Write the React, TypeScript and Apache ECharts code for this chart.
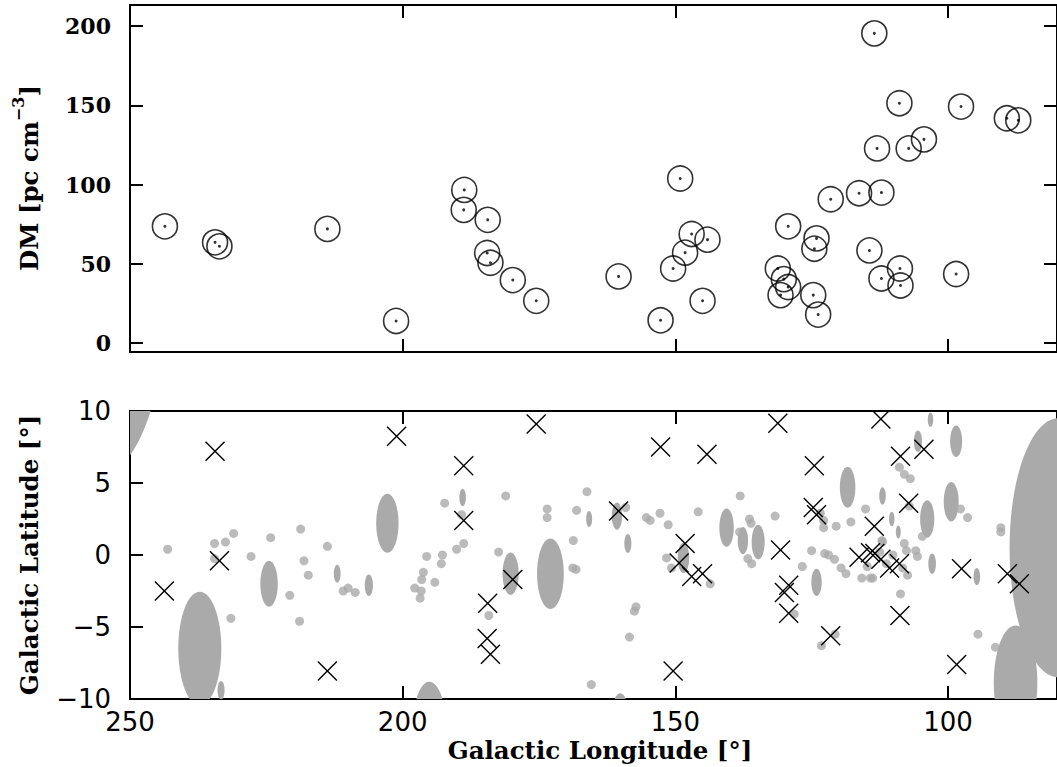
import React, { useEffect, useRef } from 'react';
import * as echarts from 'echarts';

// Top panel: pulsar dispersion measures [Galactic longitude, DM]
const dmPoints: number[][] = [
  [243.6, 73.6], [234.4, 63.5], [233.6, 61.0], [213.8, 72.0], [201.2, 13.9],
  [188.7, 96.6], [188.8, 84.0], [184.4, 77.7], [184.5, 56.8], [183.9, 50.6],
  [179.8, 39.7], [175.5, 26.6], [160.4, 42.0], [149.1, 103.8], [152.7, 14.3],
  [147.0, 68.8], [144.1, 65.2], [148.2, 57.0], [150.4, 47.0], [145.0, 26.6],
  [113.5, 195.4], [108.9, 151.3], [97.6, 149.2], [89.2, 141.8], [87.1, 140.5],
  [113.0, 122.8], [107.2, 122.8], [104.4, 128.5], [121.5, 90.7], [116.3, 94.5],
  [112.2, 94.9], [129.3, 73.6], [124.1, 66.0], [124.5, 59.5], [114.4, 58.4],
  [108.8, 47.0], [112.2, 40.7], [108.7, 36.3], [98.5, 43.5], [131.2, 47.0],
  [130.1, 40.3], [129.3, 35.3], [130.7, 30.2], [124.7, 30.2], [123.8, 17.9],
];

// Bottom panel: pulsar positions [Galactic longitude, Galactic latitude]
const latPoints: number[][] = [
  [243.7, -2.5], [234.4, 7.2], [233.6, -0.4], [213.8, -8.05], [201.1, 8.25],
  [188.8, 6.2], [188.8, 2.4], [184.4, -3.35], [184.5, -5.8], [183.9, -6.9],
  [179.8, -1.7], [175.5, 9.1], [160.4, 3.05], [152.7, 7.5], [150.4, -8.05],
  [149.3, -0.55], [148.2, 0.8], [147.0, -1.5], [145.0, -1.3], [144.2, 7.0],
  [131.2, 9.15], [130.7, 0.35], [130.0, -2.6], [129.2, -2.1], [129.2, -4.05],
  [124.5, 6.2], [124.7, 3.3], [124.1, 2.8], [121.5, -5.6], [116.3, -0.15],
  [114.2, 0.15], [113.4, 0.1], [112.3, -0.3], [110.7, -0.9], [108.9, -0.6],
  [113.5, 2.0], [112.3, 9.45], [108.7, 6.85], [104.4, 7.35], [107.2, 3.6],
  [108.8, -4.2], [97.5, -0.95], [98.4, -7.6], [89.1, -1.3], [86.9, -2.0],
];

// HII regions: [longitude, latitude, angular diameter (deg)]
const regions: number[][] = [
  [255.5, 17.6, 24], [237.2, -6.5, 7.9], [233.3, -9.4, 1.3], [224.5, -2.0, 3.2],
  [202.8, 2.2, 4.1], [195.1, -11.8, 6.0], [212.0, -1.3, 1.25], [206.2, -2.1, 1.5],
  [189.0, 4.0, 1.2], [180.2, -1.3, 2.95], [172.9, -1.3, 4.9], [165.8, 2.5, 1.1],
  [160.7, 2.7, 1.9], [158.7, 0.8, 1.3], [148.5, -0.2, 2.1], [160.1, -11.1, 3.0],
  [140.6, 1.9, 2.65], [137.6, 1.0, 1.9], [134.8, 0.9, 2.4], [124.1, -1.9, 1.9],
  [118.4, 4.7, 2.85], [103.2, 9.4, 1.0], [98.5, 7.9, 2.2], [105.5, 7.9, 1.5],
  [112.0, 4.1, 1.2], [103.8, 2.5, 2.6], [99.4, 3.7, 2.75], [110.3, 2.5, 1.0],
  [109.1, 1.6, 0.9], [102.9, -0.6, 1.4], [94.7, -1.5, 1.2], [79.7, 0.5, 18],
  [87.6, -8.9, 8],
];

// Compact HII regions drawn as dots: [longitude, latitude]
const dots: number[][] = [
  [243.1, 0.4], [234.5, 0.8], [232.5, 0.9], [231.0, 1.5], [234.5, -0.25],
  [227.8, -0.1], [224.2, 1.2], [218.7, 1.8], [218.1, -0.4], [217.3, -1.4],
  [220.7, -2.8], [231.5, -4.4], [218.9, -4.6], [213.8, 0.6], [210.9, -2.5],
  [210.0, -2.3], [208.7, -2.6], [195.6, -0.1], [196.2, -1.2], [196.5, -1.7],
  [197.8, -2.3], [196.6, -2.5], [196.8, -3.0], [194.1, -1.9], [192.7, 0.0],
  [192.9, -0.6], [192.3, 3.6], [190.1, 0.4], [188.8, 0.8], [189.2, 2.8],
  [182.4, 0.2], [181.1, 4.1], [184.2, -4.2], [173.5, 3.2], [173.5, 2.6],
  [166.2, 4.4], [168.1, 3.1], [168.7, 1.0], [168.8, -0.9], [168.2, -1.0],
  [159.1, 3.3], [155.3, 2.6], [154.6, 2.4], [152.8, 2.9], [151.3, 2.1],
  [151.6, -0.2], [150.7, -0.9], [157.5, -3.9], [157.2, -3.6], [158.4, -5.7],
  [165.4, -9.0], [145.8, 3.0], [143.6, -2.0], [138.1, 4.1], [136.4, 2.5],
  [136.1, 2.2], [136.7, -0.25], [136.0, -0.6], [138.2, 1.6], [131.7, 2.7],
  [126.7, -0.8], [125.0, 0.3], [122.6, 0.1], [121.9, 0.0], [120.8, -0.3],
  [119.6, -0.9], [118.7, -1.3], [115.8, -1.6], [114.2, -1.6], [128.2, -4.1],
  [123.2, -6.3], [120.7, -5.5], [123.4, 2.9], [122.8, 2.4], [122.8, 1.9],
  [120.5, 2.0], [117.8, 2.3], [115.1, 3.2], [114.8, -0.8], [108.9, 6.1],
  [108.0, 5.6], [106.9, 5.3], [107.1, 3.4], [104.7, 1.3], [97.7, 3.2],
  [96.4, 2.6], [108.0, 0.8], [105.9, 0.3], [105.6, -0.1], [112.0, 0.9],
  [112.5, 0.2], [110.1, 0.0], [111.3, -0.6], [113.8, -1.6], [108.3, -0.9],
  [107.4, -1.4], [108.7, -2.7], [90.3, 1.9], [90.3, 1.6], [94.5, -5.5],
  [91.3, -6.4], [112.1, 1.0], [107.6, 0.3],
];

const lonTicks = [250, 200, 150, 100];
const dmTicks = [0, 50, 100, 150, 200];
const latTicks = [-10, -5, 0, 5, 10];

const LON_MIN = 80;
const LON_MAX = 250;
const DM_MIN = -5.7;
const DM_MAX = 213.3;
const LAT_MIN = -10;
const LAT_MAX = 10;

const serifBold = { fontFamily: 'DejaVu Serif', fontWeight: 'bold' as const };
const tickStyle = { show: true, inside: true, length: 13, lineStyle: { color: '#000', width: 2 } };

function frameX(gridIndex: number, position: 'top' | 'bottom', labels: boolean) {
  return {
    type: 'value' as const,
    gridIndex,
    position,
    min: LON_MIN,
    max: LON_MAX,
    inverse: true,
    axisLine: { show: false, onZero: false },
    splitLine: { show: false },
    axisTick: { ...tickStyle, customValues: lonTicks },
    axisLabel: {
      show: labels,
      customValues: lonTicks,
      margin: 10,
      color: '#000',
      fontFamily: 'DejaVu Sans',
      fontSize: 26,
    },
  };
}

function frameY(gridIndex: number, position: 'left' | 'right', labels: boolean, top: boolean) {
  const ticks = top ? dmTicks : latTicks;
  return {
    type: 'value' as const,
    gridIndex,
    position,
    min: top ? DM_MIN : LAT_MIN,
    max: top ? DM_MAX : LAT_MAX,
    axisLine: { show: false, onZero: false },
    splitLine: { show: false },
    axisTick: { ...tickStyle, customValues: ticks },
    axisLabel: top
      ? { show: labels, customValues: ticks, margin: 19, color: '#000', fontSize: 22, ...serifBold }
      : {
          show: labels,
          customValues: ticks,
          margin: 19,
          color: '#000',
          fontFamily: 'DejaVu Sans',
          fontSize: 26,
          formatter: (v: number) => String(v).replace('-', '\u2212'),
        },
  };
}

export default function App() {
  const ref = useRef<HTMLDivElement>(null);

  useEffect(() => {
    if (!ref.current) return;
    const chart = echarts.init(ref.current, undefined, { renderer: 'svg' });
    const gridBase = { show: true, borderColor: '#000', borderWidth: 2, backgroundColor: 'transparent' };
    chart.setOption({
      animation: false,
      backgroundColor: '#fff',
      grid: [
        { ...gridBase, left: 130, top: 5, width: 935, height: 347 },
        { ...gridBase, left: 130, top: 411, width: 935, height: 288 },
      ],
      xAxis: [
        frameX(0, 'bottom', false),
        frameX(0, 'top', false),
        frameX(1, 'bottom', true),
        frameX(1, 'top', false),
      ],
      yAxis: [
        frameY(0, 'left', true, true),
        frameY(0, 'right', false, true),
        frameY(1, 'left', true, false),
        frameY(1, 'right', false, false),
      ],
      series: [
        {
          type: 'scatter',
          xAxisIndex: 0,
          yAxisIndex: 0,
          data: dmPoints,
          symbol: 'circle',
          symbolSize: 25,
          itemStyle: { color: 'rgba(0,0,0,0)', borderColor: '#000', borderWidth: 1.6 },
          z: 3,
        },
        {
          type: 'scatter',
          xAxisIndex: 0,
          yAxisIndex: 0,
          data: dmPoints,
          symbol: 'circle',
          symbolSize: 3,
          itemStyle: { color: '#000' },
          z: 4,
        },
        {
          type: 'custom',
          xAxisIndex: 2,
          yAxisIndex: 2,
          data: regions,
          clip: true,
          encode: { x: 0, y: 1 },
          renderItem: (params: any, api: any) => {
            const lon = api.value(0);
            const lat = api.value(1);
            const r = api.value(2) / 2;
            const c = api.coord([lon, lat]);
            const sz = api.size([r, r]);
            return {
              type: 'ellipse',
              shape: { cx: c[0], cy: c[1], rx: Math.abs(sz[0]), ry: Math.abs(sz[1]) },
              style: { fill: '#aaaaaa' },
            };
          },
          z: 2,
        },
        {
          type: 'scatter',
          xAxisIndex: 2,
          yAxisIndex: 2,
          data: dots,
          symbol: 'circle',
          symbolSize: 9,
          itemStyle: { color: '#aaaaaa' },
          z: 2,
        },
        {
          type: 'custom',
          xAxisIndex: 2,
          yAxisIndex: 2,
          data: latPoints,
          clip: true,
          encode: { x: 0, y: 1 },
          renderItem: (params: any, api: any) => {
            const c = api.coord([api.value(0), api.value(1)]);
            const h = 9.5;
            const st = { stroke: '#000', lineWidth: 1.4 };
            return {
              type: 'group',
              children: [
                { type: 'line', shape: { x1: c[0] - h, y1: c[1] - h, x2: c[0] + h, y2: c[1] + h }, style: st },
                { type: 'line', shape: { x1: c[0] - h, y1: c[1] + h, x2: c[0] + h, y2: c[1] - h }, style: st },
              ],
            };
          },
          z: 5,
        },
      ],
      graphic: [
        {
          type: 'text',
          x: 600,
          y: 750,
          style: {
            text: 'Galactic Longitude [°]',
            fontSize: 24.5,
            ...serifBold,
            fill: '#000',
            align: 'center',
            verticalAlign: 'middle',
          },
        },
        {
          type: 'text',
          x: 29,
          y: 178,
          rotation: Math.PI / 2,
          style: {
            text: 'DM [pc cm{sup|\u22123}]',
            fontSize: 24.5,
            lineHeight: 38,
            ...serifBold,
            fill: '#000',
            align: 'center',
            verticalAlign: 'middle',
            rich: {
              sup: { fontSize: 16, lineHeight: 16, verticalAlign: 'top', ...serifBold, fill: '#000' },
            },
          },
        },
        {
          type: 'text',
          x: 29,
          y: 555,
          rotation: Math.PI / 2,
          style: {
            text: 'Galactic Latitude [°]',
            fontSize: 24.5,
            ...serifBold,
            fill: '#000',
            align: 'center',
            verticalAlign: 'middle',
          },
        },
      ],
    });
    return () => chart.dispose();
  }, []);

  return (
    <div
      ref={ref}
      style={{ position: 'fixed', left: 0, top: 0, width: 1057, height: 767, background: '#fff' }}
    />
  );
}
